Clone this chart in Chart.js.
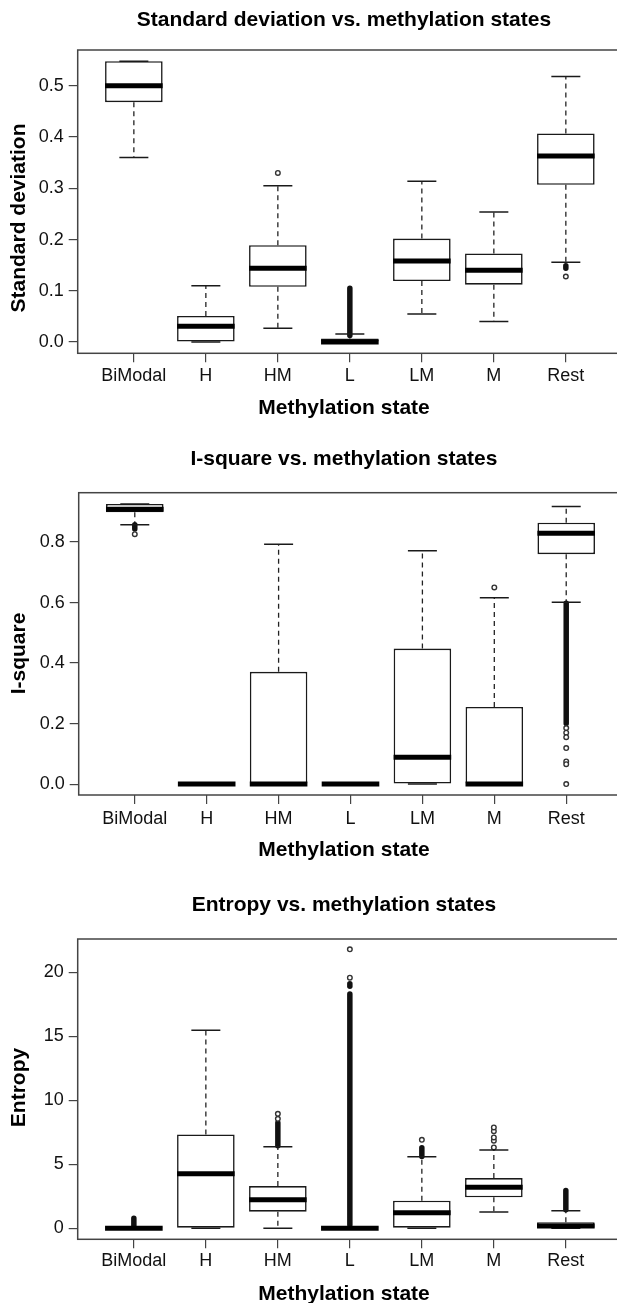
<!DOCTYPE html>
<html>
<head>
<meta charset="utf-8">
<title>Methylation state box plots</title>
<script src="https://cdn.jsdelivr.net/npm/chart.js@4.4.1/dist/chart.umd.min.js"></script>
<style>
  html, body { margin: 0; padding: 0; background: #fff; }
  #page { position: relative; width: 617px; height: 1303px; overflow: hidden; }
  canvas { position: absolute; left: 0; }
</style>
</head>
<body>
<div id="page">
  <canvas id="sdChart" width="688" height="430" style="top:0"></canvas>
  <canvas id="isqChart" width="688" height="440" style="top:430px"></canvas>
  <canvas id="entChart" width="688" height="440" style="top:870px"></canvas>
</div>
<script>
const categories = ['BiModal', 'H', 'HM', 'L', 'LM', 'M', 'Rest'];

// Standard deviation
const sdLow    = [0.360, 0.000, 0.027, 0.000, 0.055, 0.040, 0.156];
const sdQ1     = [0.468, 0.000, 0.108, 0.000, 0.119, 0.112, 0.307];
const sdMedian = [0.500, 0.031, 0.144, 0.000, 0.158, 0.140, 0.363];
const sdQ3     = [0.548, 0.051, 0.189, 0.007, 0.202, 0.173, 0.407];
const sdHigh   = [0.548, 0.110, 0.305, 0.016, 0.314, 0.254, 0.518];
const sdOutliers = [[], [], [0.330], [], [], [], [0.128]];
const sdDense    = [null, null, null, [0.013, 0.105], null, null, [0.144, 0.149]];
const sdTicks = [0, 0.1, 0.2, 0.3, 0.4, 0.5];

// I-square
const isqLow    = [0.857, 0, 0, 0, 0, 0, 0.601];
const isqQ1     = [0.898, 0, 0, 0, 0, 0, 0.760];
const isqMedian = [0.908, 0, 0, 0, 0.089, 0, 0.829];
const isqQ3     = [0.926, 0, 0.371, 0, 0.448, 0.255, 0.864];
const isqHigh   = [0.926, 0, 0.793, 0, 0.771, 0.616, 0.917];
const isqOutliers = [[0.826], [], [], [], [], [0.650],
  [0.185, 0.170, 0.155, 0.119, 0.075, 0.066, 0.0]];
const isqDense    = [[0.843, 0.857], null, null, null, null, null, [0.200, 0.598]];
const isqTicks = [0, 0.2, 0.4, 0.6, 0.8];

// Entropy
const entLow    = [0, 0, 0, 0, 0, 1.27, 0];
const entQ1     = [0, 0, 1.30, 0, 0, 2.42, 0];
const entMedian = [0, 4.26, 2.23, 0, 1.22, 3.20, 0.18];
const entQ3     = [0.08, 7.33, 3.30, 0.08, 2.16, 3.92, 0.48];
const entHigh   = [0.08, 15.47, 6.37, 0.08, 5.59, 6.11, 1.37];
const entOutliers = [[], [], [8.55, 8.94], [19.58, 21.79], [6.91], [6.32, 6.84, 7.10, 7.59, 7.88], []];
const entDense    = [[0.10, 0.78], null, [6.45, 8.25], [0.25, 18.30], [5.60, 6.30], null, [1.45, 2.95]];
const entDense2   = [null, null, null, [18.90, 19.10], null, null, null];
const entTicks = [0, 5, 10, 15, 20];

const FONT = "'Liberation Sans', Arial, Helvetica, sans-serif";
const INK = '#1a1a1a';

const framePlugin = {
  id: 'frame',
  afterDraw(chart) {
    const { ctx, chartArea: a } = chart;
    ctx.save();
    ctx.strokeStyle = '#444';
    ctx.lineWidth = 1.5;
    ctx.strokeRect(a.left, a.top, a.right - a.left, a.bottom - a.top);
    ctx.restore();
  }
};

// rotated y axis title, placed where the original has it
const yTitlePlugin = {
  id: 'yTitle',
  afterDraw(chart, args, opts) {
    const ctx = chart.ctx;
    ctx.save();
    ctx.translate(opts.x, opts.y);
    ctx.rotate(-Math.PI / 2);
    ctx.font = 'bold 21px ' + FONT;
    ctx.fillStyle = '#000';
    ctx.textAlign = 'center';
    ctx.textBaseline = 'middle';
    ctx.fillText(opts.text, 0, 0);
    ctx.restore();
  }
};

function runs(list) {
  const pts = [];
  list.forEach((r, i) => {
    if (!r) return;
    pts.push({ x: i + 1, y: r[0] }, { x: i + 1, y: r[1] }, { x: i + 1, y: null });
  });
  return pts;
}

function makeDatasets(low, q1, med, q3, high, outliers, dense, dense2) {
  const whiskers = [];
  const staples = [];
  const outPts = [];
  categories.forEach((c, i) => {
    const x = i + 1;
    whiskers.push({ x, y: q3[i] }, { x, y: high[i] }, { x, y: null });
    whiskers.push({ x, y: q1[i] }, { x, y: low[i] }, { x, y: null });
    staples.push({ x, y: high[i] }, { x, y: low[i] });
    outliers[i].forEach(v => outPts.push({ x, y: v }));
  });
  const denseSets = [dense, dense2].filter(Boolean).map(d => ({
    type: 'line',
    data: runs(d),
    borderColor: '#111',
    borderWidth: 5.5,
    borderCapStyle: 'round',
    pointRadius: 0,
    spanGaps: false,
    fill: false
  }));
  return [
    {
      type: 'scatter',
      data: categories.map((c, i) => ({ x: i + 1, y: med[i] })),
      pointStyle: 'line',
      pointRadius: 28.8,
      pointBorderWidth: 5,
      pointBorderColor: '#000'
    },
    {
      type: 'scatter',
      data: staples,
      pointStyle: 'line',
      pointRadius: 14.5,
      pointBorderWidth: 1.5,
      pointBorderColor: INK
    },
    {
      type: 'scatter',
      data: outPts,
      pointStyle: 'circle',
      pointRadius: 2.3,
      pointBorderWidth: 1.4,
      pointBorderColor: '#333',
      pointBackgroundColor: '#fff'
    },
    ...denseSets,
    {
      type: 'bar',
      data: categories.map((c, i) => ({ x: i + 1, y: [q1[i], q3[i]] })),
      backgroundColor: '#fff',
      borderColor: INK,
      borderWidth: 1.6,
      borderSkipped: false,
      categoryPercentage: 0.8,
      barPercentage: 1.0
    },
    {
      type: 'line',
      data: whiskers,
      borderColor: '#222',
      borderWidth: 1.3,
      borderDash: [5, 4],
      pointRadius: 0,
      spanGaps: false,
      fill: false
    }
  ];
}

function makeChart(id, c) {
  return new Chart(document.getElementById(id), {
    type: 'bar',
    data: { datasets: c.datasets },
    plugins: [framePlugin, yTitlePlugin],
    options: {
      responsive: false,
      animation: false,
      events: [],
      layout: { padding: 0 },
      plugins: {
        legend: { display: false },
        tooltip: { enabled: false },
        title: {
          display: true,
          text: c.title,
          color: '#000',
          font: { family: FONT, size: 21, weight: 'bold' },
          padding: c.titlePad
        },
        subtitle: {
          display: true,
          position: 'bottom',
          text: 'Methylation state',
          color: '#000',
          font: { family: FONT, size: 21, weight: 'bold' },
          padding: c.subPad
        },
        yTitle: c.yTitle
      },
      scales: {
        x: {
          type: 'linear',
          offset: false,
          min: 0.22,
          max: 7.78,
          afterBuildTicks: s => { s.ticks = categories.map((cat, i) => ({ value: i + 1 })); },
          afterFit: s => { s.height = 40; },
          ticks: {
            autoSkip: false,
            maxRotation: 0,
            padding: c.xPad,
            color: '#111',
            font: { family: FONT, size: 18 },
            callback: v => categories[v - 1]
          },
          grid: { offset: false, drawOnChartArea: false, tickLength: 9, color: '#444', lineWidth: 1.2 },
          border: { display: false }
        },
        y: {
          type: 'linear',
          min: c.yMin,
          max: c.yMax,
          afterBuildTicks: s => { s.ticks = c.yTicks.map(v => ({ value: v })); },
          afterFit: s => { s.width = c.left; },
          ticks: {
            padding: 5,
            color: '#111',
            font: { family: FONT, size: 18 },
            callback: c.fmt
          },
          grid: { drawOnChartArea: false, tickLength: 9, color: '#444', lineWidth: 1.2 },
          border: { display: false }
        },
        // empty right-hand strip so the plot box runs past the page edge
        yRight: {
          type: 'linear',
          position: 'right',
          display: true,
          afterFit: s => { s.width = 688 - c.right; },
          ticks: { display: false },
          grid: { display: false },
          border: { display: false }
        }
      }
    }
  });
}

makeChart('sdChart', {
  title: 'Standard deviation vs. methylation states',
  titlePad: { top: 7.7, bottom: 17.1 },
  subPad: { top: 2.6, bottom: 8.9 },
  yTitle: { text: 'Standard deviation', x: 19, y: 218 },
  left: 77.7, right: 622, xPad: 3.2,
  yMin: -0.0219, yMax: 0.5699, yTicks: sdTicks, fmt: v => v.toFixed(1),
  datasets: makeDatasets(sdLow, sdQ1, sdMedian, sdQ3, sdHigh, sdOutliers, sdDense)
});

makeChart('isqChart', {
  title: 'I-square vs. methylation states',
  titlePad: { top: 16.4, bottom: 21.1 },
  subPad: { top: 2.4, bottom: 7.4 },
  yTitle: { text: 'I-square', x: 19, y: 223.5 },
  left: 78.7, right: 622.3, xPad: 4.7,
  yMin: -0.036, yMax: 0.963, yTicks: isqTicks, fmt: v => v.toFixed(1),
  datasets: makeDatasets(isqLow, isqQ1, isqMedian, isqQ3, isqHigh, isqOutliers, isqDense)
});

makeChart('entChart', {
  title: 'Entropy vs. methylation states',
  titlePad: { top: 22.4, bottom: 21.4 },
  subPad: { top: 2.3, bottom: 3.2 },
  yTitle: { text: 'Entropy', x: 19, y: 217.5 },
  left: 77.7, right: 622, xPad: 1.5,
  yMin: -0.86, yMax: 22.6, yTicks: entTicks, fmt: v => String(v),
  datasets: makeDatasets(entLow, entQ1, entMedian, entQ3, entHigh, entOutliers, entDense, entDense2)
});
</script>
</body>
</html>
